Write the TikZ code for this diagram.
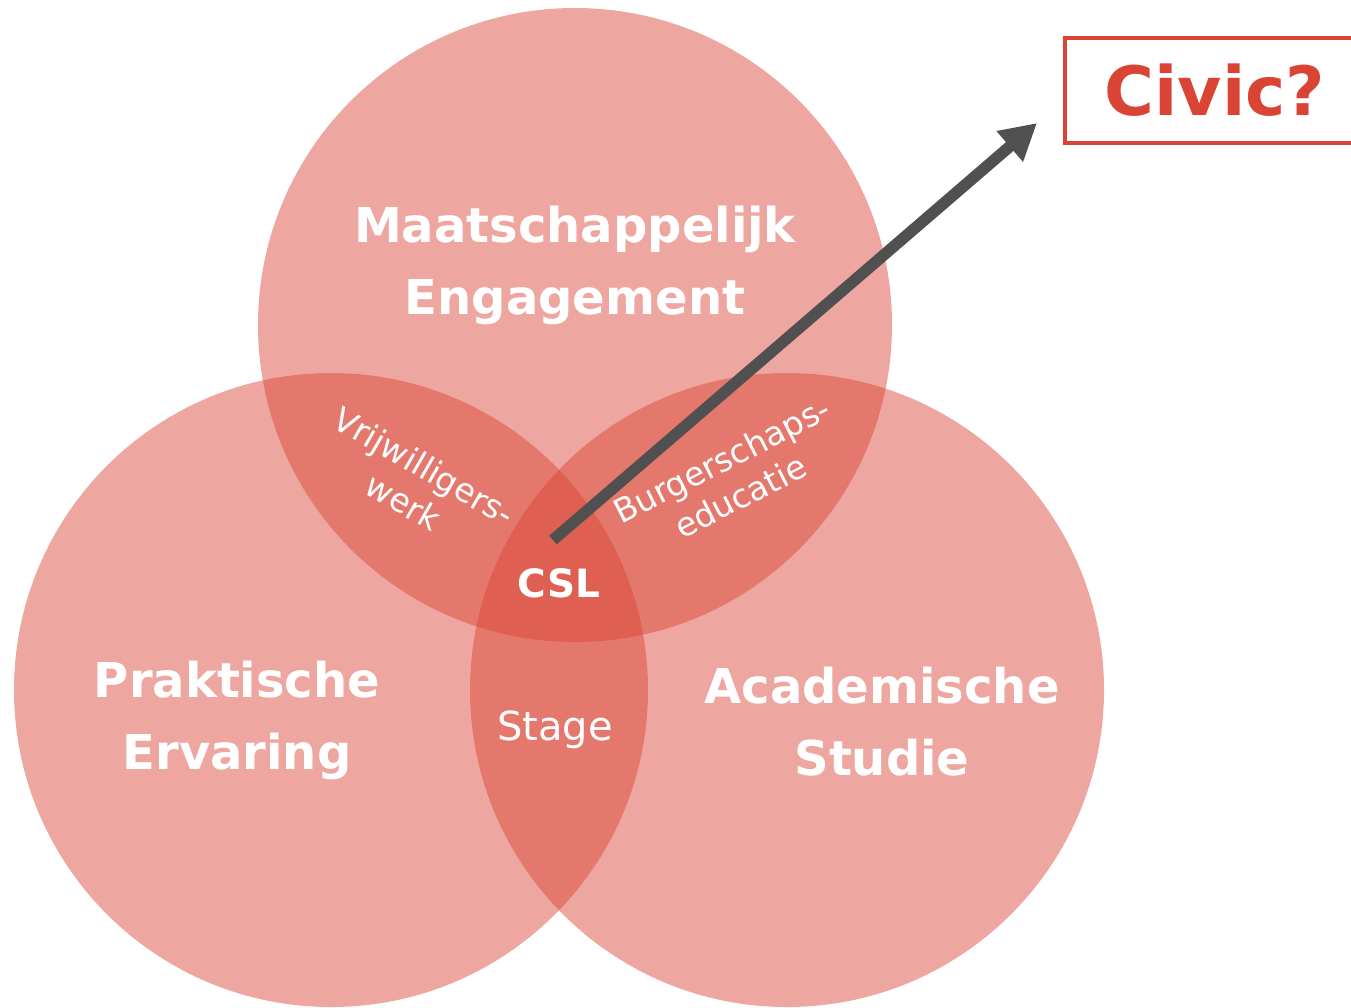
\documentclass[tikz,border=0pt]{standalone}
\usepackage{fontspec}
\setmainfont{DejaVu Sans}
\usetikzlibrary{arrows.meta}
\definecolor{vred}{RGB}{217,68,53}
\definecolor{arrowgray}{RGB}{80,80,80}
\tikzset{
  venn/.style={circle, inner sep=0pt, minimum size=634pt, fill=vred, fill opacity=0.47, draw=none},
  bigtext/.style={text=white, align=center, inner sep=0pt, font=\fontsize{48}{72}\selectfont\bfseries},
  smalltext/.style={text=white, align=center, inner sep=0pt, font=\fontsize{33}{41}\selectfont},
  arrowline/.style={line width=11.5pt, draw=arrowgray, -{Triangle[length=36pt,width=38pt]}},
}
\begin{document}
\begin{tikzpicture}[x=1pt,y=-1pt]
\useasboundingbox (0,0) rectangle (1351,1007);
\node[venn] (top) at (575,325) {};
\node[venn] (left) at (331,690) {};
\node[venn] (right) at (787,690) {};

\coordinate (csl) at (553,540);
\coordinate (tip) at (1037,123);
\draw[arrowline] (csl) -- (tip);

\node[bigtext] (me) at (575,265) {Maatschappelijk\\Engagement};
\node[bigtext] (pe) at (237,720) {Praktische\\Ervaring};
\node[bigtext] (as) at (882,722) {Academische\\Studie};
\node[text=white, inner sep=0pt, anchor=base, font=\fontsize{39}{45}\selectfont\bfseries] (cslt) at (559,597) {CSL};
\node[text=white, inner sep=0pt, anchor=base, font=\fontsize{40}{46}\selectfont] (stage) at (555,740) {Stage};
\node[smalltext, rotate=-30] (vw) at (414,484) {Vrijwilligers-\\werk};
\node[smalltext, rotate=27] (be) at (731,478) {Burgerschaps-\\educatie};

\draw[vred, line width=4pt, fill=white] (1065,38) rectangle (1370,143);
\node[text=vred, inner sep=0pt, anchor=base, font=\fontsize{68}{72}\selectfont\bfseries] (civic) at (1215,115) {Civic?};
\end{tikzpicture}
\end{document}
